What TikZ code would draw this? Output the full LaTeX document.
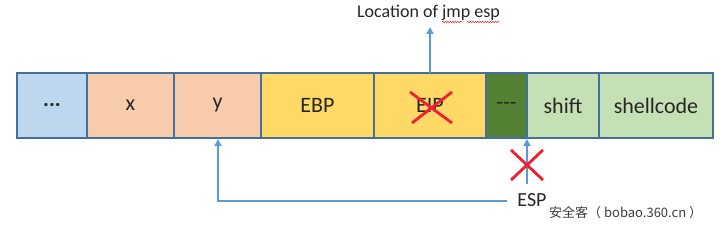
\documentclass[tikz,border=0pt]{standalone}
\usepackage{fontspec}
\setmainfont{Carlito}
\newfontfamily\cjkfont{Noto Sans CJK SC}
\usetikzlibrary{arrows.meta,decorations.pathmorphing}
\definecolor{cellborder}{HTML}{41719C}
\definecolor{cblue}{HTML}{BDD7EE}
\definecolor{cpeach}{HTML}{F8CBAD}
\definecolor{cyellow}{HTML}{FFD966}
\definecolor{cdkgreen}{HTML}{548235}
\definecolor{cltgreen}{HTML}{C5E0B4}
\definecolor{arrowblue}{HTML}{5B9BD5}
\definecolor{crossred}{HTML}{F02030}
\definecolor{txt}{HTML}{262626}
\begin{document}
\begin{tikzpicture}[x=1pt,y=-1pt,
  cell/.style={draw=cellborder,line width=1.4pt,minimum height=65pt,inner sep=0pt,outer sep=0pt,
    font=\fontsize{22}{24}\selectfont,text=txt},
  arr/.style={draw=arrowblue,line width=2.2pt,-{Triangle[length=7pt,width=7pt]}},
  plainline/.style={draw=arrowblue,line width=2.2pt},
  cross/.style={draw=crossred,line width=2.8pt}]
\useasboundingbox (0,0) rectangle (720,230);
\node[cell,fill=cblue,minimum width=70pt] (dots) at (52,105.5) {\raisebox{-3pt}{\textbf{...}}};
\node[cell,fill=cpeach,minimum width=87pt] (x) at (130.5,105.5) {x};
\node[cell,fill=cpeach,minimum width=87pt] (y) at (217.5,105.5) {y};
\node[cell,fill=cyellow,minimum width=113pt] (ebp) at (317.5,105.5) {EBP};
\node[cell,fill=cyellow,minimum width=112pt] (eip) at (430,105.5) {EIP};
\node[cell,fill=cdkgreen,minimum width=41pt] (dash) at (506.5,105.5) {{-}{-}{-}};
\node[cell,fill=cltgreen,minimum width=72pt] (shift) at (563,105.5) {shift};
\node[cell,fill=cltgreen,minimum width=114pt] (shell) at (656,105.5) {shellcode};
% cross on EIP
\draw[cross] (410,92) -- (452,123);
\draw[cross] (452,92) -- (412,123);
% location of jmp esp
\node[font=\fontsize{18}{20}\selectfont,text=txt,inner sep=0pt] (loc) at (428.5,13) {Location of jmp esp};
\coordinate (loctip) at (430,27);
\draw[arr] (eip.north) -- (loctip);
\draw[draw=red,line width=0.5pt,decorate,decoration={snake,amplitude=0.6pt,segment length=2.5pt}] (442,22) -- (462,22);
\draw[draw=red,line width=0.5pt,decorate,decoration={snake,amplitude=0.6pt,segment length=2.5pt}] (467,22) -- (499,22);
% ESP
\node[font=\fontsize{20}{22}\selectfont,text=txt,inner sep=0pt] (esp) at (532,200) {ESP};
\coordinate (espbot) at (527,184);
\coordinate (esptop) at (527,139);
\draw[arr] (espbot) -- (esptop);
\draw[cross] (511,150) -- (543,180);
\draw[cross] (543,150) -- (511,180);
\coordinate (lineR) at (507,201);
\coordinate (lineL) at (218,201);
\coordinate (ytip) at (218,139);
\draw[arr] (lineR) -- (lineL) -- (ytip);
% watermark
\node[font=\cjkfont\fontsize{13}{14}\selectfont,text=txt!90,inner sep=0pt,anchor=west] (wm) at (549,213) {安全客（ bobao.360.cn ）};
\end{tikzpicture}
\end{document}
